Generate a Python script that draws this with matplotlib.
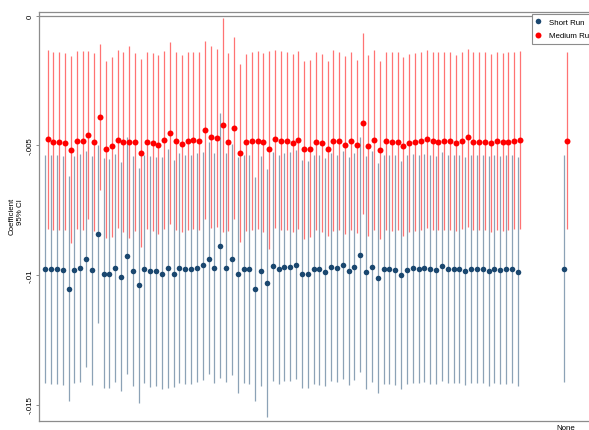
#!/usr/bin/env python3

"""Coefficient plot of short run and medium run estimates with 95% CIs"""

import numpy as np
import matplotlib
matplotlib.use('Agg')
import matplotlib.pyplot as plt
from matplotlib.lines import Line2D

# Short run point estimates and 95% CI bounds
short_b = [-0.00976, -0.00976, -0.00977, -0.00982, -0.01054, -0.00979, -0.00974, -0.00939, -0.00982, -0.00842,
           -0.00995, -0.00995, -0.00974, -0.01008, -0.00928, -0.00983, -0.01040, -0.00978, -0.00986, -0.00986,
           -0.00995, -0.00974, -0.00995, -0.00972, -0.00978, -0.00978, -0.00972, -0.00963, -0.00937, -0.00972,
           -0.00887, -0.00972, -0.00937, -0.00997, -0.00976, -0.00977, -0.01055, -0.00983, -0.01030, -0.00966,
           -0.00978, -0.00969, -0.00969, -0.00963, -0.00996, -0.00997, -0.00977, -0.00978, -0.00988, -0.00969,
           -0.00974, -0.00963, -0.00986, -0.00968, -0.00924, -0.00990, -0.00968, -0.01010, -0.00978, -0.00978,
           -0.00979, -0.01000, -0.00981, -0.00973, -0.00977, -0.00973, -0.00977, -0.00979, -0.00966, -0.00977,
           -0.00976, -0.00976, -0.00983, -0.00977, -0.00977, -0.00976, -0.00983, -0.00976, -0.00981, -0.00978,
           -0.00976, -0.00988, -0.00977]
short_hi = [-0.00536, -0.00536, -0.00536, -0.00540, -0.00617, -0.00540, -0.00532, -0.00521, -0.00541, -0.00499,
            -0.00550, -0.00553, -0.00532, -0.00563, -0.00466, -0.00541, -0.00585, -0.00537, -0.00541, -0.00545,
            -0.00543, -0.00512, -0.00555, -0.00530, -0.00536, -0.00536, -0.00530, -0.00524, -0.00488, -0.00530,
            -0.00375, -0.00530, -0.00494, -0.00546, -0.00536, -0.00537, -0.00622, -0.00540, -0.00589, -0.00524,
            -0.00537, -0.00530, -0.00524, -0.00519, -0.00555, -0.00559, -0.00535, -0.00535, -0.00549, -0.00530,
            -0.00537, -0.00521, -0.00546, -0.00530, -0.00469, -0.00540, -0.00521, -0.00566, -0.00537, -0.00537,
            -0.00537, -0.00559, -0.00537, -0.00534, -0.00536, -0.00534, -0.00536, -0.00540, -0.00527, -0.00536,
            -0.00536, -0.00536, -0.00543, -0.00536, -0.00536, -0.00536, -0.00540, -0.00536, -0.00540, -0.00536,
            -0.00536, -0.00546, -0.00537]
short_lo = [-0.01416, -0.01419, -0.01419, -0.01423, -0.01487, -0.01416, -0.01414, -0.01354, -0.01423, -0.01184,
            -0.01438, -0.01436, -0.01415, -0.01448, -0.01384, -0.01427, -0.01494, -0.01418, -0.01432, -0.01427,
            -0.01442, -0.01436, -0.01433, -0.01416, -0.01419, -0.01419, -0.01414, -0.01407, -0.01384, -0.01416,
            -0.01397, -0.01414, -0.01388, -0.01455, -0.01416, -0.01419, -0.01487, -0.01427, -0.01548, -0.01410,
            -0.01419, -0.01410, -0.01410, -0.01403, -0.01436, -0.01436, -0.01419, -0.01423, -0.01427, -0.01410,
            -0.01412, -0.01403, -0.01423, -0.01406, -0.01375, -0.01442, -0.01414, -0.01455, -0.01419, -0.01419,
            -0.01423, -0.01442, -0.01419, -0.01416, -0.01416, -0.01414, -0.01419, -0.01419, -0.01410, -0.01416,
            -0.01416, -0.01416, -0.01423, -0.01416, -0.01416, -0.01416, -0.01427, -0.01416, -0.01419, -0.01419,
            -0.01416, -0.01429, -0.01414]

# Medium run point estimates and 95% CI bounds
medium_b = [-0.00476, -0.00485, -0.00485, -0.00490, -0.00517, -0.00482, -0.00481, -0.00459, -0.00487, -0.00389,
            -0.00515, -0.00501, -0.00477, -0.00487, -0.00487, -0.00487, -0.00528, -0.00485, -0.00490, -0.00497,
            -0.00479, -0.00450, -0.00483, -0.00494, -0.00483, -0.00479, -0.00483, -0.00441, -0.00468, -0.00470,
            -0.00420, -0.00486, -0.00432, -0.00528, -0.00488, -0.00483, -0.00482, -0.00488, -0.00515, -0.00476,
            -0.00483, -0.00483, -0.00491, -0.00479, -0.00515, -0.00512, -0.00485, -0.00490, -0.00513, -0.00481,
            -0.00482, -0.00499, -0.00483, -0.00500, -0.00415, -0.00501, -0.00479, -0.00517, -0.00482, -0.00486,
            -0.00485, -0.00503, -0.00490, -0.00486, -0.00482, -0.00476, -0.00481, -0.00485, -0.00482, -0.00483,
            -0.00491, -0.00481, -0.00469, -0.00485, -0.00485, -0.00485, -0.00490, -0.00482, -0.00486, -0.00485,
            -0.00482, -0.00479, -0.00484]
medium_hi = [-0.00131, -0.00140, -0.00140, -0.00144, -0.00156, -0.00137, -0.00137, -0.00134, -0.00143, -0.00108,
             -0.00175, -0.00157, -0.00133, -0.00140, -0.00117, -0.00144, -0.00165, -0.00140, -0.00144, -0.00149,
             -0.00137, -0.00099, -0.00140, -0.00151, -0.00138, -0.00138, -0.00138, -0.00098, -0.00117, -0.00128,
             -0.00009, -0.00143, -0.00082, -0.00186, -0.00146, -0.00140, -0.00134, -0.00144, -0.00134, -0.00131,
             -0.00135, -0.00140, -0.00147, -0.00135, -0.00173, -0.00169, -0.00140, -0.00147, -0.00175, -0.00130,
             -0.00140, -0.00153, -0.00140, -0.00169, -0.00066, -0.00151, -0.00131, -0.00175, -0.00140, -0.00140,
             -0.00140, -0.00157, -0.00147, -0.00143, -0.00138, -0.00131, -0.00138, -0.00140, -0.00138, -0.00140,
             -0.00151, -0.00138, -0.00128, -0.00140, -0.00140, -0.00140, -0.00147, -0.00140, -0.00143, -0.00140,
             -0.00138, -0.00134, -0.00140]
medium_lo = [-0.00821, -0.00825, -0.00826, -0.00826, -0.00878, -0.00823, -0.00826, -0.00785, -0.00830, -0.00671,
             -0.00856, -0.00853, -0.00820, -0.00834, -0.00856, -0.00830, -0.00892, -0.00823, -0.00830, -0.00842,
             -0.00823, -0.00804, -0.00826, -0.00834, -0.00826, -0.00823, -0.00826, -0.00785, -0.00817, -0.00813,
             -0.00834, -0.00830, -0.00782, -0.00872, -0.00830, -0.00826, -0.00823, -0.00834, -0.00898, -0.00820,
             -0.00826, -0.00826, -0.00834, -0.00823, -0.00860, -0.00853, -0.00826, -0.00834, -0.00849, -0.00830,
             -0.00826, -0.00843, -0.00826, -0.00836, -0.00765, -0.00849, -0.00826, -0.00860, -0.00826, -0.00830,
             -0.00826, -0.00849, -0.00834, -0.00830, -0.00826, -0.00820, -0.00826, -0.00826, -0.00826, -0.00826,
             -0.00830, -0.00823, -0.00813, -0.00826, -0.00826, -0.00826, -0.00834, -0.00826, -0.00830, -0.00826,
             -0.00823, -0.00823, -0.00822]

series_names = ['Short Run', 'Medium Run']
last_label = 'None'
y_ticks = [0, -0.005, -0.01, -0.015]
y_ticklabels = ['0', '-.005', '-.01', '-.015']

NAVY = '#1a476f'
RED = '#ff0000'
GREY = '#8c8c8c'


def main():
    """Draw the coefficient plot and save it"""
    plt.rcParams['font.family'] = ['Liberation Sans', 'DejaVu Sans']
    fs = 5.7

    n = len(short_b)
    # unlabelled coefficients sit at 1..n-1, the 'None' category after a gap
    pos = np.append(np.arange(1, n), n + 7).astype(float)
    off = 0.205

    fig = plt.figure(figsize=(5.89, 4.31), dpi=100)
    ax = fig.add_axes([39 / 589, 9 / 431, 561 / 589, 409 / 431])

    ax.axhline(0, color=GREY, lw=0.9, zorder=1)

    ax.vlines(pos - off, short_lo, short_hi, color=NAVY, lw=0.9, alpha=0.5, zorder=2)
    ax.vlines(pos + off, medium_lo, medium_hi, color=RED, lw=0.9, alpha=0.55, zorder=2)
    ax.plot(pos - off, short_b, 'o', color=NAVY, ms=4.0, mew=0, zorder=3)
    ax.plot(pos + off, medium_b, 'o', color=RED, ms=4.3, mew=0, zorder=3)

    ax.set_xlim(-0.28, 95.9)
    ax.set_ylim(-0.015637, 0.000154)

    for side in ['left', 'bottom', 'top', 'right']:
        ax.spines[side].set_color(GREY)
        ax.spines[side].set_linewidth(0.9)

    ax.set_yticks(y_ticks)
    ax.set_yticklabels(y_ticklabels, rotation=90, va='center', fontsize=fs)
    ax.tick_params(axis='y', length=2.4, width=0.7, color=GREY, pad=1.2)
    ax.set_xticks([pos[-1]])
    ax.set_xticklabels([last_label], fontsize=fs)
    ax.tick_params(axis='x', length=0, pad=2.5)

    fig.text(12.5 / 589, 1 - 198 / 431, 'Coefficient', rotation=90,
             ha='center', va='top', fontsize=fs)
    fig.text(20 / 589, 1 - 199 / 431, '95% CI', rotation=90,
             ha='center', va='top', fontsize=fs)

    handles = [Line2D([], [], ls='none', marker='o', color=NAVY, ms=4.0, mew=0),
               Line2D([], [], ls='none', marker='o', color=RED, ms=4.3, mew=0)]
    leg = ax.legend(handles, series_names, loc='upper left',
                    bbox_to_anchor=(531.5 / 589, 1 - 15 / 431),
                    bbox_transform=fig.transFigure, fontsize=fs,
                    frameon=True, fancybox=False, framealpha=1,
                    borderaxespad=0, borderpad=0.55, handlelength=0.6,
                    handletextpad=1.0, labelspacing=0.75)
    leg.get_frame().set_edgecolor(GREY)
    leg.get_frame().set_linewidth(0.8)

    fig.savefig('out.png', dpi=100)
    return 0


if __name__ == '__main__':
    main()
